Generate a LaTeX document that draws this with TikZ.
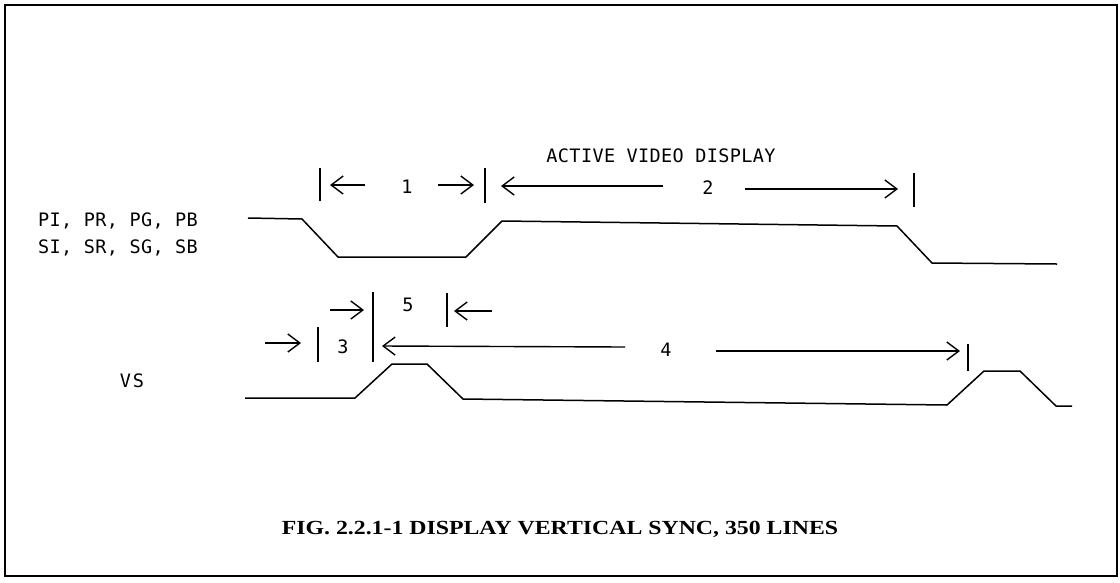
\documentclass[tikz,border=0pt]{standalone}
\usepackage{fontspec}
\setmainfont{Liberation Serif}
\newfontfamily\plotfont{DejaVu Sans Mono}[LetterSpace=2]
\newfontfamily\capfont{Liberation Serif}[FakeStretch=1.19]
\usetikzlibrary{arrows.meta}
\begin{document}
\begin{tikzpicture}[x=1pt,y=-1pt,
  wave/.style={line width=1.5pt, line join=round},
  bar/.style={line width=1.6pt},
  dim/.style={line width=1.4pt},
  tip/.style={-{Straight Barb[length=12pt,width=18pt]}},
  lbl/.style={font=\plotfont\fontsize{18.5}{18.5}\selectfont, inner sep=0pt},
  captext/.style={font=\capfont\bfseries\fontsize{20}{20}\selectfont, inner sep=0pt},
]
\useasboundingbox (0,0) rectangle (1120,582);
\draw[line width=2pt] (5,5) rectangle (1117,576);

% ---------- labels ----------
\node[lbl, anchor=west] (lp) at (38,221) {PI, PR, PG, PB};
\node[lbl, anchor=west] (ls) at (38,248) {SI, SR, SG, SB};
\node[lbl] (lvs) at (132,381) {V\hspace{2pt}S};
\node[lbl] (act) at (661,156) {ACTIVE VIDEO DISPLAY};

% ---------- waveform 1 ----------
\coordinate (w1) at (248,218);
\coordinate (w2) at (302,219);
\coordinate (w3) at (338,257);
\coordinate (w4) at (466,257);
\coordinate (w5) at (502,221);
\coordinate (w6) at (897,226);
\coordinate (w7) at (932,263);
\coordinate (w8) at (1057,264);
\draw[wave] (w1) -- (w2) -- (w3) -- (w4) -- (w5) -- (w6) -- (w7) -- (w8);

% ---------- VS waveform ----------
\coordinate (v1) at (245,398);
\coordinate (v2) at (355,398);
\coordinate (v3) at (392,364);
\coordinate (v4) at (427,364);
\coordinate (v5) at (463,399);
\coordinate (v6) at (947,405);
\coordinate (v7) at (984,371);
\coordinate (v8) at (1020,371);
\coordinate (v9) at (1056,406);
\coordinate (v10) at (1072,406);
\draw[wave] (v1) -- (v2) -- (v3) -- (v4) -- (v5) -- (v6) -- (v7) -- (v8) -- (v9) -- (v10);

% ---------- row 1 ----------
\coordinate (ba1) at (320,168); \coordinate (ba2) at (320,201);
\coordinate (bb1) at (485,168); \coordinate (bb2) at (485,203);
\coordinate (bc1) at (914,173); \coordinate (bc2) at (914,207);
\draw[bar] (ba1) -- (ba2);
\draw[bar] (bb1) -- (bb2);
\draw[bar] (bc1) -- (bc2);
\coordinate (r1a) at (365,185); \coordinate (r1b) at (330,185);
\draw[dim,tip] (r1a) -- (r1b);
\node[lbl] (n1) at (407,187) {1};
\coordinate (r1c) at (438,185); \coordinate (r1d) at (474,185);
\draw[dim,tip] (r1c) -- (r1d);
\coordinate (r2a) at (663,186); \coordinate (r2b) at (501,186);
\draw[dim,tip] (r2a) -- (r2b);
\node[lbl] (n2) at (708,188) {2};
\coordinate (r2c) at (745,189); \coordinate (r2d) at (898,189);
\draw[dim,tip] (r2c) -- (r2d);

% ---------- row 5 ----------
\coordinate (bd1) at (373,292); \coordinate (bd2) at (373,362);
\coordinate (be1) at (447,293); \coordinate (be2) at (447,327);
\draw[bar] (bd1) -- (bd2);
\draw[bar] (be1) -- (be2);
\coordinate (r5a) at (330,310); \coordinate (r5b) at (364,310);
\draw[dim,tip] (r5a) -- (r5b);
\node[lbl] (n5) at (408,305) {5};
\coordinate (r5c) at (492,311); \coordinate (r5d) at (454,311);
\draw[dim,tip] (r5c) -- (r5d);

% ---------- rows 3 / 4 ----------
\coordinate (bf1) at (318,327); \coordinate (bf2) at (318,362);
\coordinate (bg1) at (968,344); \coordinate (bg2) at (968,371);
\draw[bar] (bf1) -- (bf2);
\draw[bar] (bg1) -- (bg2);
\coordinate (r3a) at (265,343); \coordinate (r3b) at (301,343);
\draw[dim,tip] (r3a) -- (r3b);
\node[lbl] (n3) at (343,347) {3};
\coordinate (r4a) at (625,347); \coordinate (r4b) at (382,346);
\draw[dim,tip] (r4a) -- (r4b);
\node[lbl] (n4) at (666,350) {4};
\coordinate (r4c) at (716,351); \coordinate (r4d) at (960,351);
\draw[dim,tip] (r4c) -- (r4d);

% ---------- caption ----------
\node[captext] (caption) at (560,529) {FIG. 2.2.1-1 DISPLAY VERTICAL SYNC, 350 LINES};
\end{tikzpicture}
\end{document}
